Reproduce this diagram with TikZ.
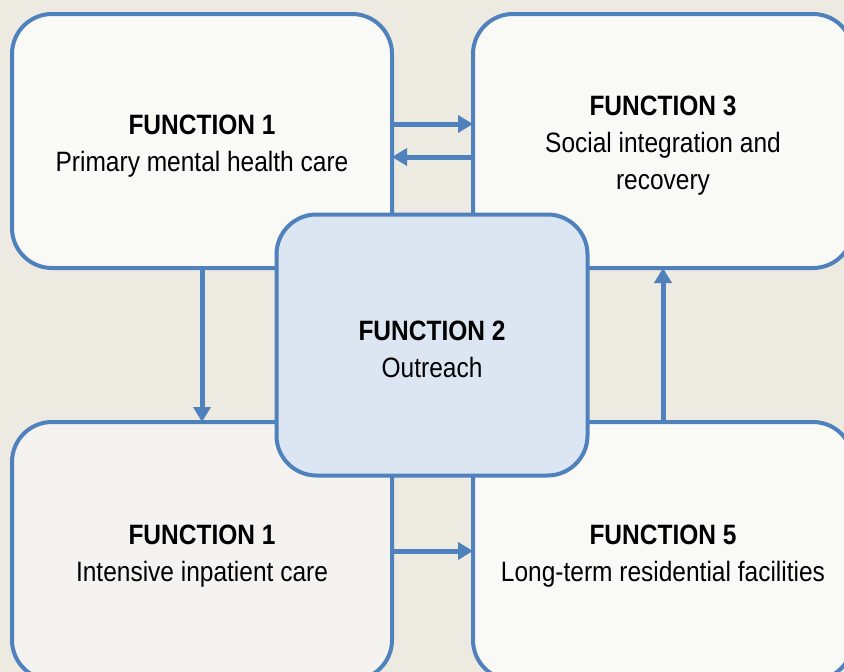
\documentclass[tikz,border=0pt]{standalone}
\usepackage{fontspec}
\setmainfont{Liberation Sans}[FakeStretch=0.875]
\usetikzlibrary{arrows.meta}

% Bold title line, padded on top so the text sits a little lower
\newcommand{\functitle}[1]{\rule{0pt}{29pt}\textbf{#1}}

\begin{document}
\begin{tikzpicture}[x=1pt,y=-1pt]

% Define colors for the boxes
\definecolor{bgbeige}{HTML}{EDEAE1}
\definecolor{boxline}{HTML}{4F81BD}
\definecolor{boxlight}{HTML}{F9F9F6}
\definecolor{boxgrey}{HTML}{F4F3EF}
\definecolor{boxblue}{HTML}{DCE6F2}

\tikzset{
  funcbox/.style={draw=boxline, line width=4pt, rounded corners=40pt,
    fill=boxlight, align=center, outer sep=0pt,
    minimum width=380pt, minimum height=254pt,
    font=\fontsize{28}{37}\selectfont},
  flow/.style={draw=boxline, line width=5pt,
    -{Triangle[length=15pt,width=17pt]}}
}

% Background and clipping
\useasboundingbox (0,0) rectangle (844,672);
\clip (0,0) rectangle (844,672);
\fill[bgbeige] (0,0) rectangle (844,672);

% Outer boxes
\node[funcbox] (primary) at (202,141)
  {\functitle{FUNCTION 1}\\Primary mental health care};
\node[funcbox] (social) at (663,141)
  {\functitle{FUNCTION 3}\\Social integration and\\recovery};
\node[funcbox, fill=boxgrey, minimum height=258pt] (inpatient) at (202,551)
  {\functitle{FUNCTION 1}\\Intensive inpatient care};
\node[funcbox, minimum height=258pt] (residential) at (663,551)
  {\functitle{FUNCTION 5}\\Long-term residential facilities};

% Arrows between the outer boxes
\draw[flow] ([yshift=17pt]primary.east) -- ([yshift=17pt]social.west);
\draw[flow] ([yshift=-16pt]social.west) -- ([yshift=-16pt]primary.east);
\draw[flow] (primary.south) -- (inpatient.north);
\draw[flow] (residential.north) -- (social.south);
\draw[flow] (inpatient.east) -- (residential.west);

% Centre box
\node[funcbox, fill=boxblue, minimum width=311pt, minimum height=261pt]
  (outreach) at (432,345) {\functitle{FUNCTION 2}\\Outreach};

\end{tikzpicture}
\end{document}
